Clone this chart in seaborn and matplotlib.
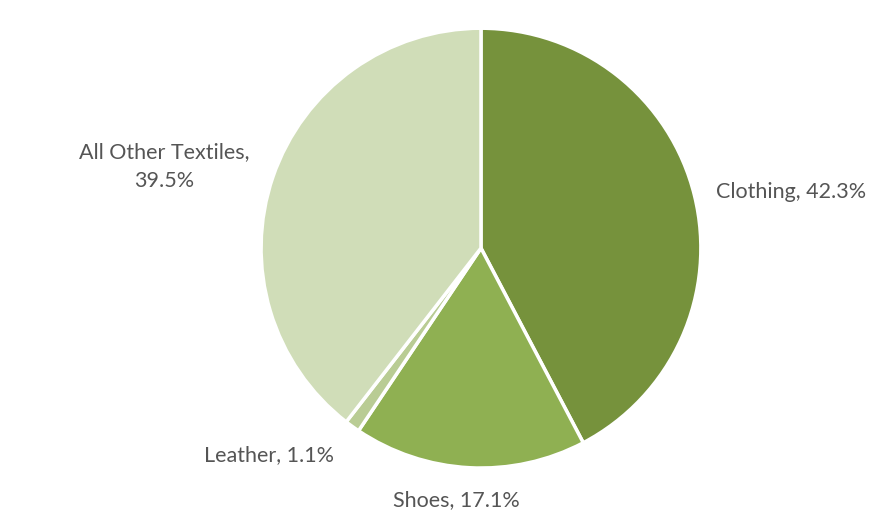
import matplotlib
matplotlib.use("Agg")
import matplotlib.pyplot as plt
import seaborn as sns

categories = ["Clothing", "Shoes", "Leather", "All Other Textiles"]
values = [42.3, 17.1, 1.1, 39.5]
colors = ["#76923C", "#8FB052", "#B9CC94", "#D0DDB8"]

sns.set_theme(style="white")
plt.rcParams['font.family'] = ['Lato', 'DejaVu Sans']

fig = plt.figure(figsize=(8.7, 5.18), dpi=100)
ax = fig.add_axes([0.3, 0.0965, 0.5057, 0.849])
ax.pie(values, colors=colors, startangle=90, counterclock=False, radius=1,
       wedgeprops=dict(edgecolor="white", linewidth=2.5))
ax.set_xlim(-1, 1)
ax.set_ylim(-1, 1)
ax.set_aspect("equal")
ax.axis("off")

tc = "#555555"
fs = 15.5
ax.text(1.07, 0.255, f"{categories[0]}, {values[0]}%", ha="left", va="center", color=tc, fontsize=fs, clip_on=False)
ax.text(-1.44, 0.37, f"{categories[3]},\n{values[3]}%", ha="center", va="center", color=tc, fontsize=fs, clip_on=False, linespacing=1.55)
ax.text(-0.964, -0.94, f"{categories[2]}, {values[2]}%", ha="center", va="center", color=tc, fontsize=fs, clip_on=False)
ax.text(-0.11, -1.145, f"{categories[1]}, {values[1]}%", ha="center", va="center", color=tc, fontsize=fs, clip_on=False)

fig.savefig("out.png", dpi=100)
